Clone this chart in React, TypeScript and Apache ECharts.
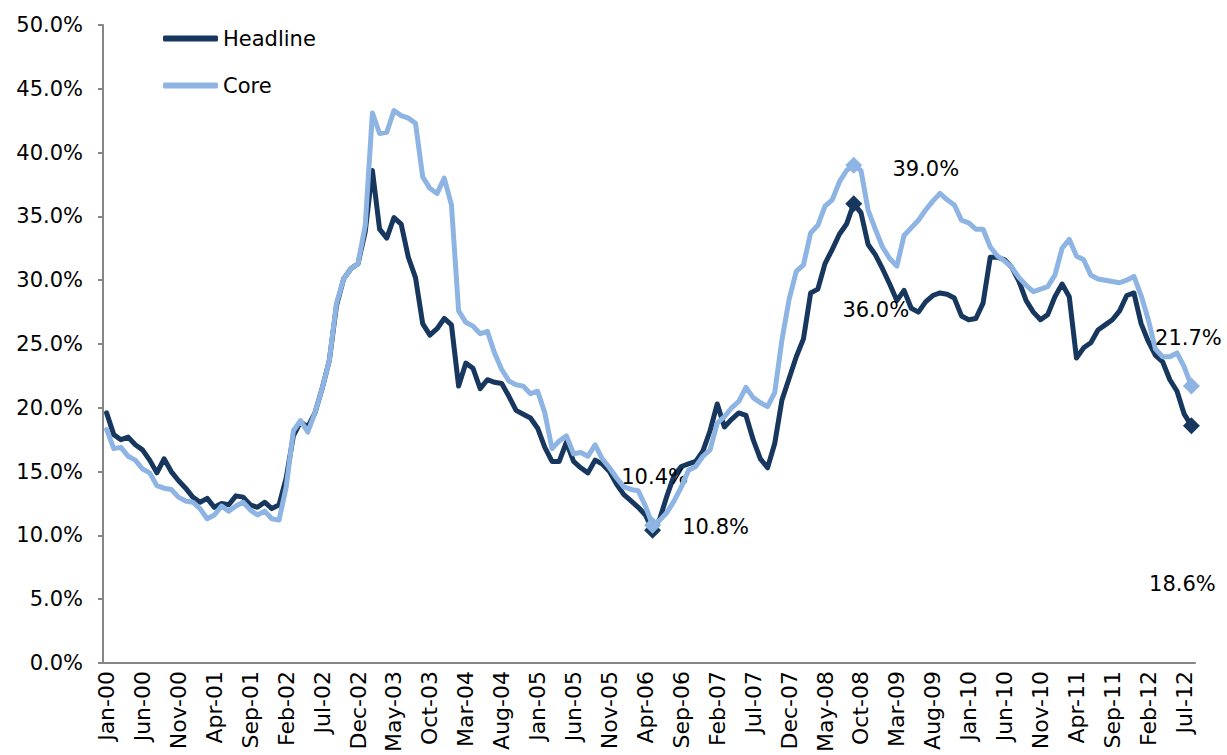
import React, { useEffect, useRef } from "react";
import * as echarts from "echarts";

const MONTHS = ["Jan", "Feb", "Mar", "Apr", "May", "Jun", "Jul", "Aug", "Sep", "Oct", "Nov", "Dec"];
const START_YEAR = 0; // 2000
const N_MONTHS = 152; // Jan-00 .. Aug-12

const categories: string[] = [];
for (let i = 0; i < N_MONTHS; i++) {
  const yy = START_YEAR + Math.floor(i / 12);
  categories.push(`${MONTHS[i % 12]}-${String(yy).padStart(2, "0")}`);
}

const headline: number[] = [
  19.6, 17.9, 17.5, 17.7, 17.1, 16.7, 15.9, 14.9, 16.0, 15.0,
  14.3, 13.7, 13.0, 12.6, 12.9, 12.2, 12.5, 12.4, 13.1, 13.0,
  12.4, 12.2, 12.6, 12.1, 12.4, 14.5, 17.8, 18.9, 18.5, 19.6,
  21.5, 23.7, 28.0, 30.1, 30.9, 31.3, 33.8, 38.6, 34.0, 33.3,
  34.9, 34.4, 31.8, 30.2, 26.6, 25.7, 26.2, 27.0, 26.5, 21.7,
  23.5, 23.1, 21.5, 22.2, 22.0, 21.9, 20.9, 19.8, 19.5, 19.2,
  18.4, 16.9, 15.8, 15.8, 17.3, 15.8, 15.3, 14.9, 15.9, 15.6,
  15.0, 14.0, 13.2, 12.7, 12.2, 11.6, 10.4, 11.3, 13.1, 14.7,
  15.4, 15.6, 15.8, 16.6, 18.2, 20.3, 18.5, 19.1, 19.6, 19.4,
  17.5, 16.0, 15.3, 17.2, 20.6, 22.3, 24.0, 25.4, 29.0, 29.3,
  31.3, 32.4, 33.6, 34.4, 36.0, 35.3, 32.8, 32.0, 30.9, 29.7,
  28.4, 29.2, 27.8, 27.5, 28.3, 28.8, 29.0, 28.9, 28.6, 27.2,
  26.9, 27.0, 28.2, 31.8, 31.8, 31.6, 31.0, 29.9, 28.4, 27.5,
  26.9, 27.3, 28.7, 29.7, 28.7, 23.9, 24.7, 25.1, 26.1, 26.5,
  26.9, 27.6, 28.8, 29.0, 26.6, 25.2, 24.1, 23.6, 22.2, 21.3,
  19.5, 18.6,
];

const core: number[] = [
  18.3, 16.8, 16.9, 16.2, 15.9, 15.2, 14.9, 13.9, 13.7, 13.6,
  13.0, 12.7, 12.6, 12.1, 11.3, 11.6, 12.3, 11.9, 12.3, 12.6,
  12.0, 11.6, 11.9, 11.3, 11.2, 13.8, 18.2, 19.0, 18.1, 19.6,
  21.5, 23.7, 28.2, 30.1, 30.9, 31.3, 34.3, 43.1, 41.5, 41.6,
  43.3, 42.9, 42.7, 42.3, 38.1, 37.2, 36.8, 38.0, 35.9, 27.6,
  26.7, 26.4, 25.8, 26.0, 24.3, 23.0, 22.1, 21.8, 21.7, 21.1,
  21.3, 19.6, 16.8, 17.4, 17.8, 16.4, 16.5, 16.2, 17.1, 16.0,
  15.3, 14.5, 13.8, 13.6, 13.5, 12.3, 10.8, 11.2, 11.8, 12.7,
  13.8, 15.1, 15.4, 16.2, 16.7, 18.8, 19.3, 20.0, 20.5, 21.6,
  20.8, 20.4, 20.1, 21.2, 25.3, 28.5, 30.7, 31.2, 33.7, 34.3,
  35.8, 36.3, 37.7, 38.6, 39.0, 38.6, 35.5, 34.0, 32.6, 31.7,
  31.1, 33.5, 34.1, 34.7, 35.5, 36.2, 36.8, 36.3, 35.9, 34.7,
  34.5, 34.0, 34.0, 32.6, 31.9, 31.5, 31.0, 30.2, 29.6, 29.1,
  29.3, 29.5, 30.4, 32.5, 33.2, 31.9, 31.6, 30.4, 30.1, 30.0,
  29.9, 29.8, 30.0, 30.3, 28.8, 26.9, 24.6, 24.0, 24.0, 24.3,
  23.2, 21.7,
];

const yTicks = { min: 0, max: 50, interval: 5 };

// highlighted points (index into series) and label offsets relative to the point
const headlineMarks = [
  { index: 76, offset: [2, -53] },
  { index: 104, offset: [22, 106] },
  { index: 151, offset: [-9, 158] },
];
const coreMarks = [
  { index: 76, offset: [63, 2] },
  { index: 104, offset: [72, 4] },
  { index: 151, offset: [-3, -48] },
];

const DARK = "#17375E";
const LIGHT = "#8DB4E2";
const FONT = "DejaVu Sans";

function buildData(values: number[], marks: { index: number; offset: number[] }[], color: string) {
  return values.map((v, i) => {
    const m = marks.find((mk) => mk.index === i);
    if (!m) return v;
    return {
      value: v,
      symbol: "diamond",
      symbolSize: 17,
      itemStyle: { color, opacity: 1 },
      label: {
        show: true,
        position: "inside",
        offset: m.offset,
        formatter: (p: any) => `${Number(p.value).toFixed(1)}%`,
        fontFamily: FONT,
        fontSize: 21,
        color: "#000",
      },
    };
  });
}

export default function App() {
  const ref = useRef<HTMLDivElement>(null);
  useEffect(() => {
    if (!ref.current) return;
    const chart = echarts.init(ref.current, undefined, { renderer: "svg" });
    chart.setOption({
      animation: false,
      backgroundColor: "#fff",
      grid: {
        left: 103,
        right: 32,
        top: 25,
        bottom: 92,
        containLabel: false,
        outerBoundsMode: "none",
      },
      legend: {
        data: [
          { name: "Headline", icon: "roundRect" },
          { name: "Core", icon: "roundRect" },
        ],
        orient: "vertical",
        left: 158,
        top: 23,
        itemWidth: 55,
        itemHeight: 6,
        itemGap: 26,
        selectedMode: false,
        textStyle: { fontFamily: FONT, fontSize: 21, color: "#000" },
      },
      xAxis: {
        type: "category",
        data: categories,
        boundaryGap: true,
        axisLine: { lineStyle: { color: "#868686", width: 2 } },
        axisTick: { interval: 4, length: 5, lineStyle: { color: "#868686", width: 2 } },
        axisLabel: {
          interval: 4,
          rotate: 90,
          margin: 8,
          fontFamily: FONT,
          fontSize: 22,
          color: "#000",
        },
        splitLine: { show: false },
      },
      yAxis: {
        type: "value",
        min: yTicks.min,
        max: yTicks.max,
        interval: yTicks.interval,
        axisLine: { show: true, lineStyle: { color: "#868686", width: 2 } },
        axisTick: { show: true, length: 5, lineStyle: { color: "#868686", width: 2 } },
        axisLabel: {
          margin: 20,
          formatter: (v: number) => `${v.toFixed(1)}%`,
          fontFamily: FONT,
          fontSize: 21,
          color: "#000",
        },
        splitLine: { show: false },
      },
      series: [
        {
          name: "Headline",
          type: "line",
          data: buildData(headline, headlineMarks, DARK),
          symbol: "diamond",
          symbolSize: 0,
          showSymbol: true,
          showAllSymbol: true,
          color: DARK,
          itemStyle: { color: DARK },
          lineStyle: { color: DARK, width: 5, join: "round", cap: "round" },
          emphasis: { disabled: true },
          z: 2,
        },
        {
          name: "Core",
          type: "line",
          data: buildData(core, coreMarks, LIGHT),
          symbol: "diamond",
          symbolSize: 0,
          showSymbol: true,
          showAllSymbol: true,
          color: LIGHT,
          itemStyle: { color: LIGHT },
          lineStyle: { color: LIGHT, width: 5, join: "round", cap: "round" },
          emphasis: { disabled: true },
          z: 3,
        },
      ],
    });
    return () => chart.dispose();
  }, []);
  return (
    <div
      ref={ref}
      style={{ position: "fixed", left: 0, top: 0, width: 1227, height: 755 }}
    />
  );
}
